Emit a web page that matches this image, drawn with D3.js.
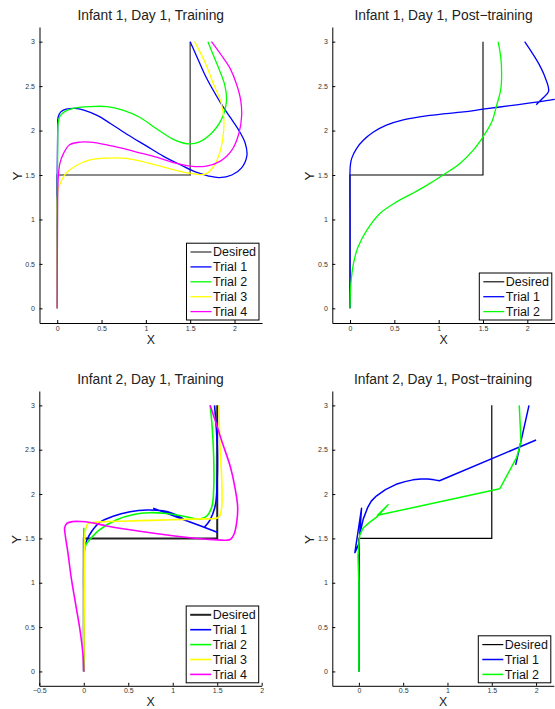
<!DOCTYPE html>
<html>
<head>
<meta charset="utf-8">
<script src="https://cdn.jsdelivr.net/npm/d3@7"></script>
<style>
  body { margin: 0; background: #fff; }
  svg { display: block; }
  text { font-family: "Liberation Sans", Arial, Helvetica, sans-serif; }
</style>
</head>
<body>
<div id="chart"></div>
<script>
// Desired trajectory, same for every panel
var desiredPath = [[0, 0], [0, 1.5], [1.5, 1.5], [1.5, 3]];

var panelTitles = ["Infant 1, Day 1, Training", "Infant 1, Day 1, Post\u2212training",
                   "Infant 2, Day 1, Training", "Infant 2, Day 1, Post\u2212training"];
var legendLabels = ["Desired", "Trial 1", "Trial 2", "Trial 3", "Trial 4"];
var xTicksNarrow = [0, 0.5, 1, 1.5, 2];
var xTicksWide = [-0.5, 0, 0.5, 1, 1.5, 2];
var yTicks = [0, 0.5, 1, 1.5, 2, 2.5, 3];

// Infant 1, training
var i1TrainT1 = [[0,0],[0,0.8],[0,1.5],[0.005,2.0],[0.01,2.15],[0.04,2.21],[0.1,2.24],[0.2,2.25],[0.3,2.23],
  [0.45,2.17],[0.6,2.08],[0.8,1.95],[1.0,1.83],[1.2,1.71],[1.4,1.61],[1.5,1.56],[1.6,1.52],[1.7,1.49],
  [1.83,1.47],[1.97,1.5],[2.08,1.58],[2.14,1.72],[2.12,1.86],[2.05,2.0],[1.95,2.15],[1.85,2.3],
  [1.75,2.47],[1.66,2.64],[1.58,2.82],[1.5,3.0]];
var i1TrainT2 = [[0,0],[0.002,1.0],[0.005,1.8],[0.01,2.08],[0.03,2.16],[0.08,2.21],[0.18,2.25],[0.37,2.27],
  [0.56,2.27],[0.74,2.23],[0.93,2.15],[1.12,2.02],[1.31,1.9],[1.42,1.86],[1.5,1.85],[1.6,1.87],
  [1.72,1.95],[1.85,2.12],[1.91,2.34],[1.89,2.51],[1.83,2.68],[1.76,2.85],[1.7,3.0]];
var i1TrainT3 = [[0,0],[0.001,0.88],[0.01,1.33],[0.05,1.44],[0.1,1.52],[0.22,1.61],[0.37,1.67],[0.56,1.69],
  [0.74,1.69],[0.93,1.66],[1.12,1.61],[1.31,1.56],[1.5,1.52],[1.67,1.51],[1.76,1.59],[1.83,1.74],
  [1.87,1.93],[1.88,2.12],[1.85,2.31],[1.76,2.53],[1.67,2.76],[1.55,3.0]];
var i1TrainT4 = [[0,0],[0.003,0.9],[0.01,1.44],[0.03,1.63],[0.07,1.74],[0.14,1.84],[0.26,1.87],[0.37,1.87],
  [0.56,1.84],[0.74,1.8],[0.93,1.75],[1.12,1.7],[1.31,1.64],[1.5,1.6],[1.68,1.6],[1.83,1.65],
  [1.97,1.78],[2.05,1.97],[2.08,2.16],[2.07,2.34],[2.02,2.53],[1.95,2.7],[1.85,2.85],[1.74,3.0]];

// Infant 1, post-training
var i1PostT1 = [[0,0],[0,1.0],[0,1.55],[0.005,1.62],[0.02,1.69],[0.075,1.8],[0.15,1.89],[0.26,1.98],
  [0.41,2.06],[0.6,2.12],[0.9,2.17],[1.28,2.21],[1.5,2.24],[1.88,2.29],[2.1,2.32],[2.31,2.35],
  [2.4,2.37],null,[2.1,2.29],[2.17,2.36],[2.24,2.44],[2.2,2.6],[2.13,2.75],[2.05,2.88],[1.97,3.0]];
var i1PostT2 = [[0,0],[0.01,0.28],[0.04,0.51],[0.09,0.69],[0.19,0.88],[0.34,1.07],[0.53,1.2],[0.7,1.29],
  [0.86,1.38],[1.05,1.5],[1.24,1.63],[1.39,1.78],[1.5,1.93],[1.6,2.1],[1.65,2.27],[1.7,2.46],
  [1.71,2.64],[1.7,2.83],[1.67,3.0]];

// Infant 2, training
var i2TrainT1 = [[0,0],[0,0.8],[0.002,1.3],[0.01,1.4],[0.03,1.47],[0.09,1.58],[0.18,1.68],[0.33,1.75],
  [0.52,1.8],[0.71,1.82],[0.89,1.81],[1.0,1.78],[1.12,1.72],null,[0.78,1.84],[1.14,1.705],[1.5,1.57],
  null,[1.35,1.62],[1.42,1.71],[1.48,1.88],[1.5,2.18],[1.5,2.56],[1.47,3.0]];
var i2TrainT2 = [[0,0],[0,0.8],[0,1.62],null,[0.004,1.3],[0.02,1.42],[0.07,1.49],[0.18,1.6],[0.37,1.71],
  [0.56,1.77],[0.74,1.79],[0.93,1.78],[1.12,1.75],[1.31,1.72],[1.38,1.75],[1.44,1.86],[1.46,2.05],
  [1.46,2.43],[1.44,2.8],[1.42,3.0]];
var i2TrainT3 = [[0,0],[0.005,0.8],[0.01,1.4],[0.02,1.6],[0.05,1.67],[0.1,1.68],[0.26,1.69],[0.63,1.7],
  [1.0,1.71],[1.31,1.72],[1.5,1.73],[1.53,1.76],[1.55,1.85],[1.55,2.18],[1.53,2.56],[1.52,3.0]];
var i2TrainT4 = [[0,0],[-0.01,0.2],[-0.04,0.45],[-0.09,0.75],[-0.14,1.05],[-0.18,1.35],[-0.21,1.55],
  [-0.215,1.62],[-0.19,1.67],[-0.12,1.69],[-0.03,1.69],[0.07,1.68],[0.26,1.64],[0.63,1.58],[1.0,1.53],
  [1.38,1.49],[1.6,1.48],[1.65,1.49],[1.69,1.55],[1.72,1.69],[1.73,1.85],[1.7,2.07],[1.65,2.3],
  [1.55,2.6],[1.48,2.82],[1.42,3.0]];

// Infant 2, post-training
var i2PostT1 = [[0,0],[0,1.0],[0.005,1.45],[-0.045,1.34],[0.03,1.84],[0.01,1.55],[0.05,1.72],[0.1,1.85],
  [0.14,1.92],[0.2,1.98],[0.3,2.05],[0.42,2.11],[0.52,2.14],[0.61,2.16],[0.7,2.17],[0.78,2.17],
  [0.85,2.16],[0.91,2.15],[2.0,2.61],null,[1.77,2.33],[1.92,3.0]];
var i2PostT2 = [[0,0],[0,1.0],[-0.01,1.3],[0.01,1.54],[0.05,1.62],[0.12,1.68],[0.2,1.74],[0.33,1.88],
  [0.21,1.76],[1.59,2.06],[1.78,2.41],[1.83,2.59],[1.81,3.0]];

var trialColors = ["#0000ff", "#00ff00", "#ffff00", "#ff00ff"];

var width = 555, height = 709;
var svg = d3.select("#chart").append("svg")
    .attr("width", width)
    .attr("height", height);

var panels = [
  {title: panelTitles[0], trials: [i1TrainT1, i1TrainT2, i1TrainT3, i1TrainT4],
   left: 39.5, right: 262, top: 27, bottom: 323, xDomain: [-0.2, 2.31], yDomain: [-0.165, 3.165],
   xTicks: xTicksNarrow, desiredColor: "#666", desiredWidth: 1.6, lineWidth: 1.3, curve: "smooth"},
  {title: panelTitles[1], trials: [i1PostT1, i1PostT2],
   left: 332.3, right: 554.8, top: 27, bottom: 323, xDomain: [-0.2, 2.31], yDomain: [-0.165, 3.165],
   xTicks: xTicksNarrow, desiredColor: "#000", desiredWidth: 1.1, lineWidth: 1.3, curve: "smooth"},
  {title: panelTitles[2], trials: [i2TrainT1, i2TrainT2, i2TrainT3, i2TrainT4],
   left: 39.3, right: 261.7, top: 391, bottom: 685.8, xDomain: [-0.5, 2.0], yDomain: [-0.162, 3.162],
   xTicks: xTicksWide, desiredColor: "#222", desiredWidth: 2, lineWidth: 1.6, curve: "smooth"},
  {title: panelTitles[3], trials: [i2PostT1, i2PostT2],
   left: 332.3, right: 553.8, top: 391, bottom: 685.8, xDomain: [-0.3, 2.2], yDomain: [-0.162, 3.162],
   xTicks: xTicksNarrow, desiredColor: "#000", desiredWidth: 1.2, lineWidth: 1.5, curve: "linear"}
];

panels.forEach(function(p, i) {
  var x = d3.scaleLinear().domain(p.xDomain).range([p.left, p.right]);
  var y = d3.scaleLinear().domain(p.yDomain).range([p.bottom, p.top]);
  var g = svg.append("g").attr("class", "panel");

  var clipId = "clip" + i;
  svg.append("clipPath").attr("id", clipId)
    .append("rect")
      .attr("x", p.left).attr("y", p.top)
      .attr("width", p.right - p.left).attr("height", p.bottom - p.top);

  var line = d3.line()
      .defined(function(d) { return d; })
      .x(function(d) { return x(d[0]); })
      .y(function(d) { return y(d[1]); })
      .curve(p.curve === "smooth" ? d3.curveCatmullRom.alpha(0.5) : d3.curveLinear);

  var plot = g.append("g").attr("clip-path", "url(#" + clipId + ")");

  plot.append("path")
      .datum(desiredPath)
      .attr("d", d3.line().x(function(d) { return x(d[0]); }).y(function(d) { return y(d[1]); }))
      .attr("fill", "none")
      .attr("stroke", p.desiredColor)
      .attr("stroke-width", p.desiredWidth);

  p.trials.forEach(function(t, k) {
    plot.append("path")
        .datum(t)
        .attr("d", line)
        .attr("fill", "none")
        .attr("stroke", trialColors[k])
        .attr("stroke-width", p.lineWidth)
        .attr("stroke-linejoin", "round");
  });

  // axes, MATLAB style: inward ticks, left and bottom only
  var fmt = function(d) { return d < 0 ? "\u2212" + Math.abs(d) : String(d); };
  var xAxis = d3.axisBottom(x).tickValues(p.xTicks).tickSizeInner(-3).tickSizeOuter(0)
      .tickPadding(2.6).tickFormat(fmt);
  var yAxis = d3.axisLeft(y).tickValues(yTicks).tickSizeInner(-3).tickSizeOuter(0)
      .tickPadding(4.5).tickFormat(fmt);

  var gx = g.append("g").attr("transform", "translate(0," + p.bottom + ")").call(xAxis);
  var gy = g.append("g").attr("transform", "translate(" + p.left + ",0)").call(yAxis);
  [gx, gy].forEach(function(a) {
    a.select(".domain").attr("stroke", "#000").attr("stroke-width", 1);
    a.selectAll(".tick line").attr("stroke", "#000");
    a.selectAll("text").attr("fill", "#333").attr("font-size", 7)
      .style("font-family", "'Liberation Sans', Arial, sans-serif");
  });

  var cx = (p.left + p.right) / 2;
  g.append("text")
      .attr("x", cx).attr("y", p.top - 7)
      .attr("text-anchor", "middle")
      .attr("font-size", 13.8)
      .attr("fill", "#222")
      .text(p.title);
  g.append("text")
      .attr("x", cx).attr("y", p.bottom + 20.5)
      .attr("text-anchor", "middle")
      .attr("font-size", 12.3)
      .attr("fill", "#222")
      .text("X");
  g.append("text")
      .attr("transform", "translate(" + (p.left - 18) + "," + ((p.top + p.bottom) / 2 + 1) + ") rotate(-90)")
      .attr("text-anchor", "middle")
      .attr("font-size", 13.5)
      .attr("fill", "#222")
      .text("Y");

  // legend, south-east corner
  var n = p.trials.length + 1;
  var rowH = 14.9, legW = 72.5;
  var legH = 17.2 + (n - 1) * rowH;
  var lx = p.right - 3 - legW, ly = p.bottom - 3 - legH;
  var leg = g.append("g").attr("transform", "translate(" + lx + "," + ly + ")");
  leg.append("rect")
      .attr("width", legW).attr("height", legH)
      .attr("fill", "#fff").attr("stroke", "#000").attr("stroke-width", 1);
  legendLabels.slice(0, n).forEach(function(lab, k) {
    var ry = 8.8 + k * rowH;
    leg.append("line")
        .attr("x1", 4).attr("x2", 25).attr("y1", ry).attr("y2", ry)
        .attr("stroke", k === 0 ? p.desiredColor : trialColors[k - 1])
        .attr("stroke-width", k === 0 ? p.desiredWidth : p.lineWidth);
    leg.append("text")
        .attr("x", 26.5).attr("y", ry + 4.5)
        .attr("font-size", 12.5)
        .attr("fill", "#111")
        .text(lab);
  });
});
</script>
</body>
</html>
